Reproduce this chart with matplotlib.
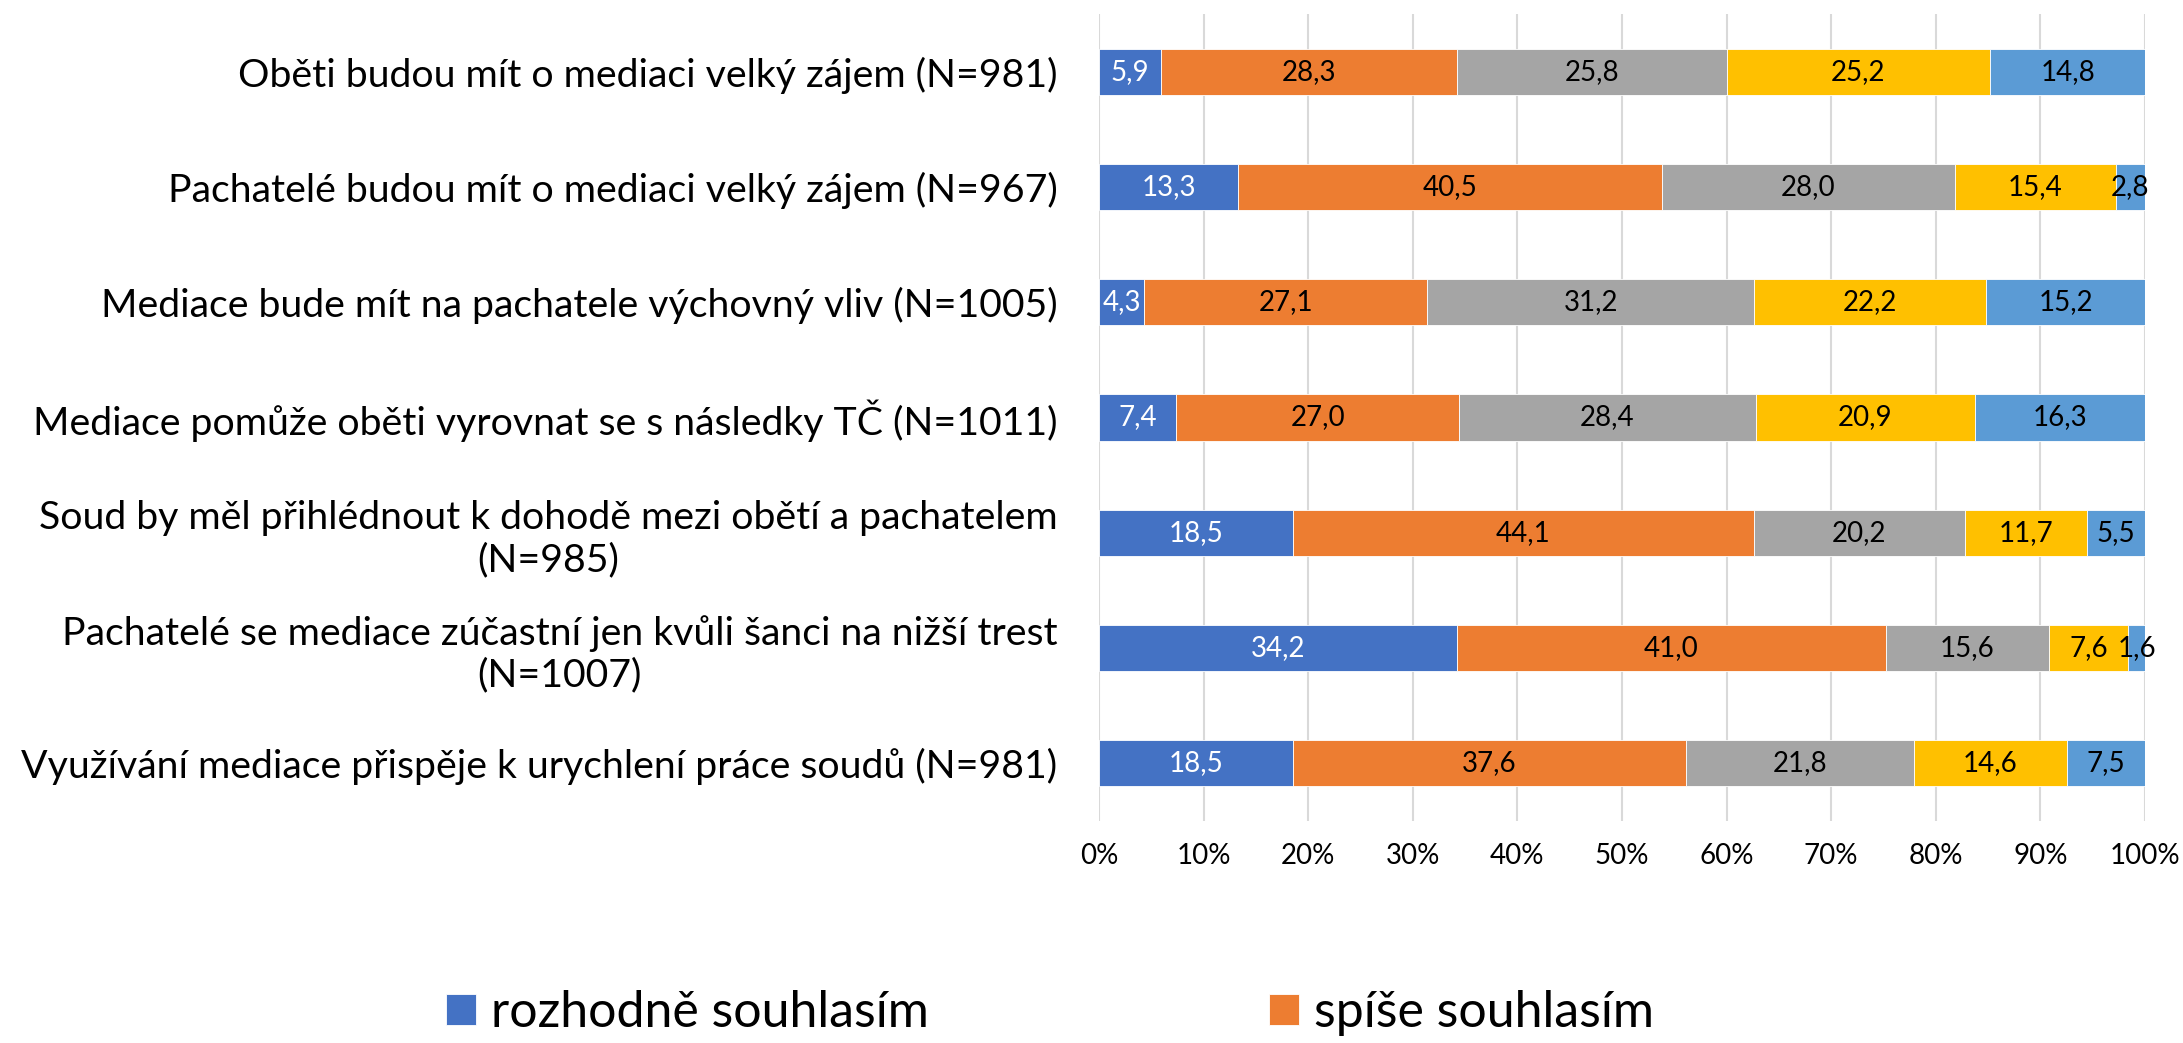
import numpy as np
import matplotlib
matplotlib.use("Agg")
import matplotlib.pyplot as plt

plt.rcParams['font.family'] = ['Lato', 'DejaVu Sans']

# --- Dati ---
statements = [
    "Oběti budou mít o mediaci velký zájem (N=981)",
    "Pachatelé budou mít o mediaci velký zájem (N=967)",
    "Mediace bude mít na pachatele výchovný vliv (N=1005)",
    "Mediace pomůže oběti vyrovnat se s následky TČ (N=1011)",
    "Soud by měl přihlédnout k dohodě mezi obětí a pachatelem\n(N=985)",
    "Pachatelé se mediace zúčastní jen kvůli šanci na nižší trest\n(N=1007)",
    "Využívání mediace přispěje k urychlení práce soudů (N=981)",
]
series_names = ["rozhodně souhlasím", "spíše souhlasím"]

s1 = [5.9, 13.3, 4.3, 7.4, 18.5, 34.2, 18.5]
s2 = [28.3, 40.5, 27.1, 27.0, 44.1, 41.0, 37.6]
s3 = [25.8, 28.0, 31.2, 28.4, 20.2, 15.6, 21.8]
s4 = [25.2, 15.4, 22.2, 20.9, 11.7, 7.6, 14.6]
s5 = [14.8, 2.8, 15.2, 16.3, 5.5, 1.6, 7.5]

xticks = [0, 10, 20, 30, 40, 50, 60, 70, 80, 90, 100]

colors = ["#4472C4", "#ED7D31", "#A5A5A5", "#FFC000", "#5B9BD5"]
text_colors = ["white", "black", "black", "black", "black"]

W, H = 2183, 1043
fig = plt.figure(figsize=(W / 100, H / 100), dpi=100)
ax = fig.add_axes([1099 / W, 1 - 821 / H, (2145 - 1099) / W, (821 - 14) / H])

y = np.arange(len(statements))
left = np.zeros(len(statements))
containers = []
for vals, c, tc in zip([s1, s2, s3, s4, s5], colors, text_colors):
    vals = np.array(vals)
    bars = ax.barh(y, vals, left=left, height=0.4, color=c, edgecolor="white",
                   linewidth=0.6, zorder=3)
    ax.bar_label(bars, labels=[f"{v:.1f}".replace(".", ",") for v in vals],
                 label_type="center", color=tc, fontsize=20)
    containers.append(bars)
    left += vals

ax.set_xlim(0, 100)
ax.set_ylim(len(statements) - 0.5, -0.5)
ax.set_xticks(xticks)
ax.set_xticklabels([f"{t}%" for t in xticks], fontsize=20)
ax.set_yticks(y)
ax.set_yticklabels(statements, fontsize=28.3, multialignment="center")
ax.tick_params(axis="both", length=0)
ax.tick_params(axis="x", pad=16)
ax.tick_params(axis="y", pad=30)
ax.grid(axis="x", color="#D9D9D9", linewidth=1.5, zorder=0)
for sp in ax.spines.values():
    sp.set_visible(False)

fig.legend([containers[0], containers[1]], series_names, loc="center left",
           bbox_to_anchor=(446 / W, 1 - 1013 / H), ncol=2, frameon=False,
           fontsize=36, handlelength=0.6, handleheight=0.6, handletextpad=0.3,
           columnspacing=6.8, borderaxespad=0, borderpad=0)

fig.savefig("out.png", dpi=100)
